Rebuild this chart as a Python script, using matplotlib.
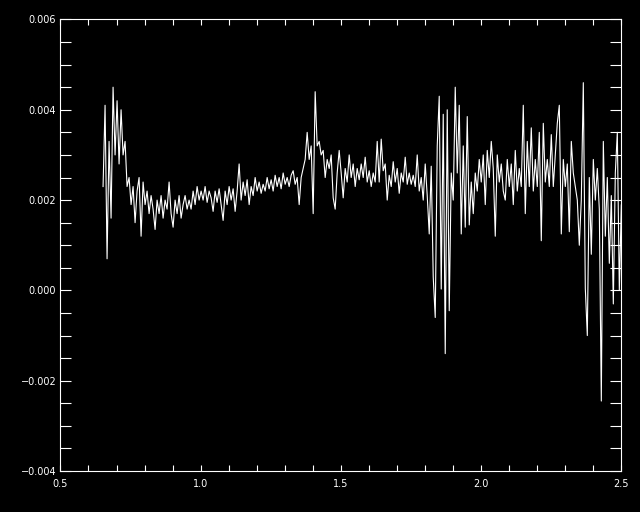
import numpy as np
import matplotlib
matplotlib.use('Agg')
import matplotlib.pyplot as plt
from matplotlib.ticker import MultipleLocator, FuncFormatter

# wavelength grid (microns), uniformly sampled
wave_start = 0.652
wave_end = 2.509

# flux values, in units of 1e-3
flux_milli = [
    2.3, 4.1, 0.7, 3.3, 1.6, 4.5, 3.0, 4.2, 2.8, 4.0,
    3.0, 3.3, 2.3, 2.5, 1.9, 2.3, 1.5, 2.2, 2.5, 1.2,
    2.4, 1.9, 2.2, 1.7, 2.1, 1.8, 1.35, 2.0, 1.7, 2.1,
    1.6, 2.0, 1.8, 2.4, 1.7, 1.4, 2.0, 1.7, 2.1, 1.6,
    1.9, 2.1, 1.8, 2.0, 1.8, 2.2, 1.9, 2.3, 2.0, 2.2,
    2.0, 2.3, 1.95, 2.2, 2.05, 1.75, 2.2, 1.95, 2.25, 1.9,
    1.55, 2.2, 1.9, 2.3, 2.0, 2.25, 1.75, 2.2, 2.8, 2.0,
    2.4, 2.1, 2.45, 1.9, 2.3, 2.1, 2.5, 2.2, 2.4, 2.15,
    2.35, 2.2, 2.5, 2.25, 2.45, 2.2, 2.55, 2.3, 2.5, 2.25,
    2.6, 2.35, 2.5, 2.3, 2.55, 2.65, 2.35, 2.5, 1.9, 2.5,
    2.7, 2.9, 3.5, 2.9, 3.2, 1.7, 4.4, 3.2, 3.3, 3.0,
    3.1, 2.5, 2.9, 2.7, 3.0, 2.05, 1.8, 2.6, 3.1, 2.6,
    2.05, 2.7, 2.4, 3.0, 2.5, 2.8, 2.3, 2.7, 2.45, 2.8,
    2.5, 2.95, 2.4, 2.65, 2.3, 2.6, 2.4, 3.3, 2.4, 3.35,
    2.65, 2.8, 2.0, 2.55, 2.3, 2.85, 2.4, 2.7, 2.15, 2.6,
    2.4, 2.95, 2.35, 2.6, 2.35, 2.55, 2.3, 3.0, 2.2, 2.5,
    2.0, 2.8, 2.1, 1.25, 2.75, 0.3, -0.6, 3.2, 4.3, 0.03,
    3.9, -1.4, 4.0, -0.45, 2.6, 2.0, 4.5, 2.6, 4.1, 1.25,
    3.2, 1.4, 3.85, 1.45, 2.4, 1.7, 2.6, 2.2, 2.9, 2.4,
    3.0, 1.9, 3.1, 2.5, 3.3, 2.7, 1.2, 3.0, 2.4, 2.8,
    2.2, 2.0, 2.9, 2.3, 2.8, 1.9, 3.1, 2.2, 2.7, 2.3,
    4.1, 1.7, 3.3, 2.3, 3.6, 2.2, 2.9, 2.3, 3.5, 1.1,
    3.7, 2.4, 2.9, 2.3, 3.45, 2.3, 3.0, 3.7, 4.1, 1.25,
    2.9, 2.3, 2.8, 1.3, 3.3, 2.6, 2.3, 2.0, 1.0, 2.0,
    4.6, 0.05, -1.0, 2.5, 0.8, 2.9, 2.0, 2.7, 1.8, -2.45,
    3.3, 1.2, 2.5, 0.6, 2.1, -0.3, 2.6, 3.5, 0.0, 1.9,
    0.9,
]

wave = np.linspace(wave_start, wave_end, len(flux_milli))
flux = np.array(flux_milli) * 1e-3

fig = plt.figure(figsize=(6.4, 5.12), dpi=100, facecolor='black')
ax = fig.add_axes([0.0945, 0.080, 0.8755, 0.882], facecolor='black')

ax.plot(wave, flux, color='white', linewidth=0.8)

ax.set_xlim(0.5, 2.5)
ax.set_ylim(-0.004, 0.006)

ax.xaxis.set_major_locator(MultipleLocator(0.5))
ax.xaxis.set_minor_locator(MultipleLocator(0.1))
ax.yaxis.set_major_locator(MultipleLocator(0.002))
ax.yaxis.set_minor_locator(MultipleLocator(0.0005))
ax.xaxis.set_major_formatter(FuncFormatter(lambda v, p: ('%.1f' % v).replace('-', '\u2212')))
ax.yaxis.set_major_formatter(FuncFormatter(lambda v, p: ('%.3f' % (0.0 if abs(v) < 1e-12 else v)).replace('-', '\u2212')))

for s in ax.spines.values():
    s.set_color('white')
    s.set_linewidth(0.8)

ax.tick_params(axis='both', which='both', direction='in', colors='white',
               top=True, right=True, width=0.8, labelsize=7)
ax.tick_params(axis='x', which='both', length=4, pad=6)
ax.tick_params(axis='y', which='both', length=8, pad=3)

fig.savefig('out.png', dpi=100, facecolor='black')
